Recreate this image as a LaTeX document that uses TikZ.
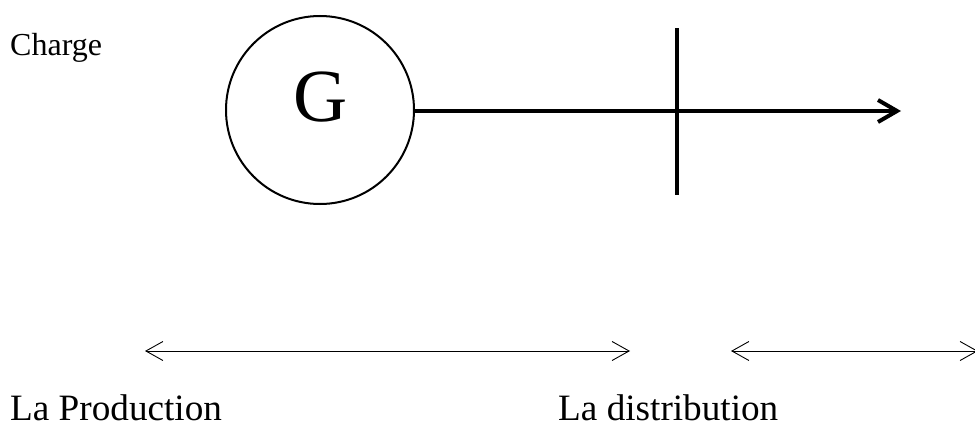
\documentclass[tikz,border=0pt]{standalone}
\usepackage{fontspec}
\usetikzlibrary{arrows.meta}
\setmainfont{Liberation Serif}
\begin{document}
\begin{tikzpicture}[x=1pt,y=-1pt,
    every node/.style={inner sep=0pt},
    label/.style={anchor=base west,font=\fontsize{37.2}{37.2}\selectfont},
    span/.style={{Straight Barb[length=17pt,width=19pt]}-{Straight Barb[length=17pt,width=19pt]},line width=0.9pt}]
    \useasboundingbox (0,0) rectangle (975,423);
    \node[anchor=base west,font=\fontsize{32}{32}\selectfont] (charge) at (10,55) {Charge};

    % Générateur
    \node[draw,circle,line width=2pt,minimum size=188pt] (gen) at (320,110) {};
    \node[anchor=base,font=\fontsize{75}{75}\selectfont] (lettre) at (321,121) {G};
    \coordinate (bout) at (901,111);
    \draw[-{Straight Barb[length=19pt,width=22pt,line width=4pt]},line width=3.2pt] (gen.east |- bout) -- (bout);

    % Barre
    \coordinate (barhaut) at (677,28);
    \coordinate (barbas) at (677,195);
    \draw[line width=3.6pt] (barhaut) -- (barbas);

    % Étendues
    \coordinate (proda) at (145,351);
    \coordinate (prodb) at (630,351);
    \coordinate (dista) at (731,351);
    \coordinate (distb) at (978,351);
    \draw[span] (proda) -- (prodb);
    \draw[span] (dista) -- (distb);

    \node[label] (prod) at (10,420) {La Production};
    \node[label] (dist) at (558,420) {La distribution};
\end{tikzpicture}
\end{document}
